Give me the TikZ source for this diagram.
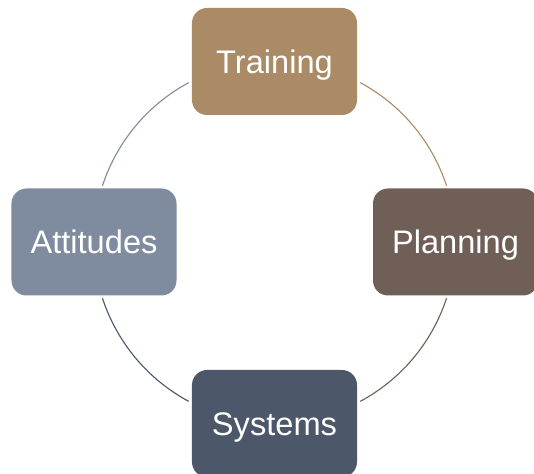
\documentclass[tikz,border=0pt]{standalone}
\usepackage{fontspec}
\setmainfont{Liberation Sans}
\usepackage{xcolor}
\usepackage{tikz}
\definecolor{trainfill}{RGB}{171,139,101}
\definecolor{planfill}{RGB}{112,95,86}
\definecolor{sysfill}{RGB}{76,88,105}
\definecolor{attfill}{RGB}{127,139,159}
\tikzset{
  stage/.style={
    fill=#1, draw=none, rounded corners=3.75mm,
    minimum width=41.25mm, minimum height=26.75mm, inner sep=0pt,
    text height=17pt, text depth=0pt,
    align=center, text=white, font=\fontsize{23.2}{27}\selectfont,
  },
  stage/.default=sysfill,
  ring/.style={draw=#1, line width=0.8pt},
}

\begin{document}
\begin{tikzpicture}[x=0.25mm,y=0.25mm]
  \useasboundingbox (0,0) rectangle (534,474);

  % centre of the cycle
  \coordinate (hub) at (274.5,232);

  % Arcs between the stages (clockwise)
  \draw[ring=trainfill] ([shift={(61.7:181)}]hub) arc[start angle=61.7, end angle=18.1, radius=181];
  \draw[ring=planfill] ([shift={(-18.1:181)}]hub) arc[start angle=-18.1, end angle=-61.7, radius=181];
  \draw[ring=sysfill] ([shift={(-118.3:181)}]hub) arc[start angle=-118.3, end angle=-161.9, radius=181];
  \draw[ring=attfill] ([shift={(161.9:181)}]hub) arc[start angle=161.9, end angle=118.3, radius=181];

  % Stage boxes
  \node[stage=trainfill] (train) at (274.5,412.5) {Training};
  \node[stage=planfill] (plan) at (455.5,232) {Planning};
  \node[stage=sysfill] (sys) at (274.5,50.5) {Systems};
  \node[stage=attfill] (att) at (94,232) {Attitudes};
\end{tikzpicture}
\end{document}
